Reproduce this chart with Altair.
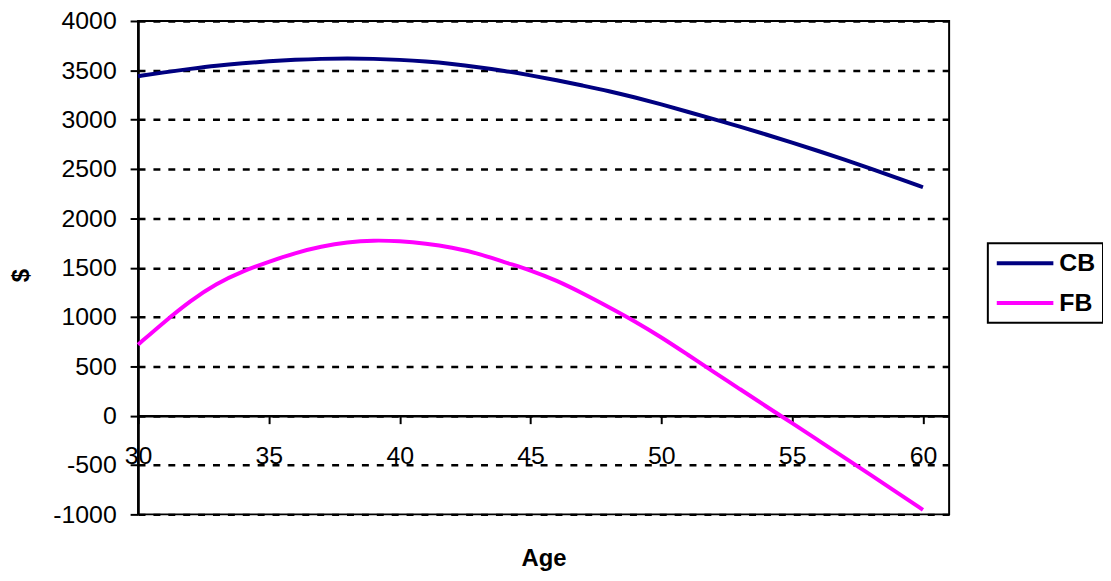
import altair as alt
import pandas as pd

ages = [30, 31, 32, 33, 34, 35, 36, 37, 38, 39, 40, 41, 42, 43, 44, 45,
        46, 47, 48, 49, 50, 51, 52, 53, 54, 55, 56, 57, 58, 59, 60]
cb = [3440, 3480, 3515, 3548, 3572, 3592, 3607, 3617, 3620, 3617, 3607,
      3590, 3565, 3533, 3495, 3450, 3400, 3345, 3290, 3225, 3155, 3080,
      3005, 2930, 2850, 2768, 2683, 2595, 2503, 2410, 2315]
fb = [720, 950, 1165, 1340, 1465, 1560, 1650, 1715, 1760, 1778, 1770,
      1745, 1705, 1645, 1555, 1475, 1370, 1240, 1100, 955, 795, 620,
      445, 270, 95, -75, -250, -425, -600, -777, -954]
series = ["CB", "FB"]
colors = ["#000080", "#FF00FF"]
x_ticks = [30, 35, 40, 45, 50, 55, 60]
y_ticks = [-1000, -500, 0, 500, 1000, 1500, 2000, 2500, 3000, 3500, 4000]

rows = []
for a, v in zip(ages, cb):
    rows.append({"Age": a, "Value": v, "Series": "CB"})
for a, v in zip(ages, fb):
    rows.append({"Age": a, "Value": v, "Series": "FB"})
df = pd.DataFrame(rows)

W, H = 817, 497
ymin, ymax = -1000, 4000
zero_offset = -H * (0 - ymin) / (ymax - ymin)

FONT = "Liberation Sans"

chart = alt.Chart(df).mark_line(strokeWidth=4, interpolate="basis").encode(
    x=alt.X("Age:Q",
            scale=alt.Scale(domain=[30, 61], nice=False, zero=False),
            axis=alt.Axis(values=x_ticks, title="Age", offset=zero_offset,
                          labelExpr="'' + datum.value",
                          grid=False, tickSize=8, tickWidth=2, tickColor="black",
                          domainColor="black", domainWidth=2.5,
                          labelPadding=20, labelFontSize=25, labelFont=FONT,
                          labelColor="black", labelFlush=False, labelOverlap=False,
                          titleFont=FONT, titleFontSize=24, titleFontWeight="bold",
                          titleColor="black", titleX=W / 2, titleY=151,
                          titleBaseline="alphabetic")),
    y=alt.Y("Value:Q",
            scale=alt.Scale(domain=[ymin, ymax], nice=False, zero=False),
            axis=alt.Axis(values=y_ticks, title="$", grid=True,
                          labelExpr="'' + datum.value",
                          gridColor="black", gridDash=[7, 8], gridWidth=2.5,
                          tickSize=8, tickWidth=2, tickColor="black",
                          domainColor="black", domainWidth=2.5,
                          labelPadding=14, labelFontSize=25, labelFont=FONT,
                          labelColor="black", labelFlush=False, labelOverlap=False,
                          titleFont=FONT, titleFontSize=24, titleFontWeight="bold",
                          titleColor="black", titleAngle=270, titleX=-117,
                          titleY=256, titleAlign="center", titleBaseline="middle")),
    color=alt.Color("Series:N",
                    scale=alt.Scale(domain=series, range=colors),
                    legend=alt.Legend(title=None, orient="none", legendX=856,
                                      legendY=224, direction="vertical",
                                      symbolType="stroke", symbolSize=3249,
                                      symbolStrokeWidth=4, labelFont=FONT,
                                      labelFontSize=25, labelFontWeight="bold",
                                      labelColor="black", labelOffset=4,
                                      padding=7, rowPadding=14, clipHeight=26,
                                      strokeColor="black", fillColor="white")),
).properties(
    width=W, height=H,
    background="white",
    autosize=alt.AutoSizeParams(type="none"),
    padding={"left": 131, "top": 11, "right": 155, "bottom": 60},
).configure_view(
    stroke="black", strokeWidth=2
).configure_legend(
    strokeWidth=2
)

chart.save("out.html", embed_options={"renderer": "svg", "actions": False})
